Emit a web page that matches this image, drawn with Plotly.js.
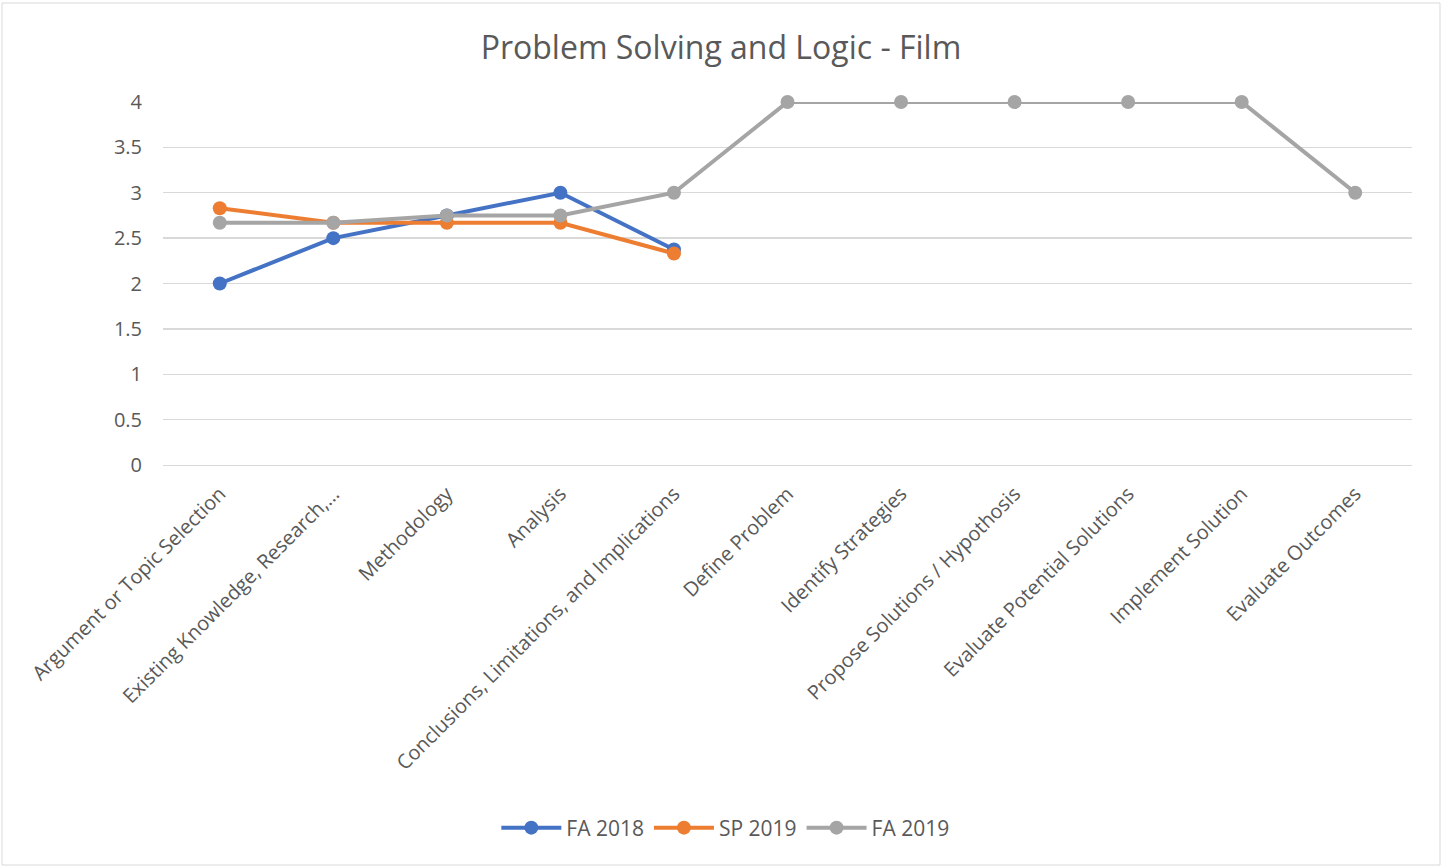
<!DOCTYPE html>
<html><head><meta charset="utf-8">
<script src="https://cdn.plot.ly/plotly-3.0.1.min.js"></script>
<style>html,body{margin:0;padding:0;background:#fff}#chart{width:1442px;height:867px}</style>
</head><body><div id="chart"></div>
<script>
const categories = ["Argument or Topic Selection","Existing Knowledge, Research,…","Methodology","Analysis","Conclusions, Limitations, and Implications","Define Problem","Identify Strategies","Propose Solutions / Hypothosis","Evaluate Potential Solutions","Implement Solution","Evaluate Outcomes"];
const fa2018 = [2, 2.5, 2.75, 3, 2.375, null, null, null, null, null, null];
const sp2019 = [2.83, 2.67, 2.67, 2.67, 2.33, null, null, null, null, null, null];
const fa2019 = [2.67, 2.67, 2.75, 2.75, 3, 4, 4, 4, 4, 4, 3];
const yTicks = [0, 0.5, 1, 1.5, 2, 2.5, 3, 3.5, 4];

function tr(name, y, color){
  return {type:'scatter', mode:'lines+markers', name:name, x:categories, y:y,
    line:{color:color, width:4}, marker:{color:color, size:14}, connectgaps:false, cliponaxis:false};
}
const data = [tr('FA 2018', fa2018, '#4472c4'), tr('SP 2019', sp2019, '#ed7d31'), tr('FA 2019', fa2019, '#a5a5a5')];
const font = "Open Sans, Liberation Sans, sans-serif";
const layout = {
  width:1442, height:867,
  margin:{l:163, r:30, t:102, b:402},
  paper_bgcolor:'#fff', plot_bgcolor:'#fff',
  font:{family:font, color:'#595959', size:20},
  title:{text:'Problem Solving and Logic - Film', x:0.5, xanchor:'center', y:0.945, yanchor:'middle', font:{size:32, color:'#595959', family:font}},
  xaxis:{type:'category', range:[-0.5, 10.5], tickangle:-45, showgrid:false, showline:true, linecolor:'#d9d9d9', linewidth:1.3, ticks:'', ticklabelstandoff:8, tickfont:{size:20, color:'#595959'}, zeroline:false, fixedrange:true},
  yaxis:{range:[0,4], tickvals:yTicks, ticktext:yTicks.map(String), showgrid:true, gridcolor:'#d9d9d9', gridwidth:1.3, zeroline:false, showline:false, ticks:'', ticklen:0, ticklabelstandoff:20, tickfont:{size:20, color:'#595959'}, automargin:false},
  legend:{orientation:'h', xref:'container', yref:'container', x:0.503, xanchor:'center', y:0.045, yanchor:'middle', font:{size:21, color:'#595959'}, itemwidth:60},
  showlegend:true,
  shapes:[{type:'rect', xref:'paper', yref:'paper', x0:-161/1249, x1:1+(28)/1249, y0:-400/363, y1:1+(99)/363, line:{color:'#d9d9d9', width:1}, fillcolor:'rgba(0,0,0,0)'}]
};
Plotly.newPlot('chart', data, layout, {displayModeBar:false, staticPlot:true});
</script></body></html>
